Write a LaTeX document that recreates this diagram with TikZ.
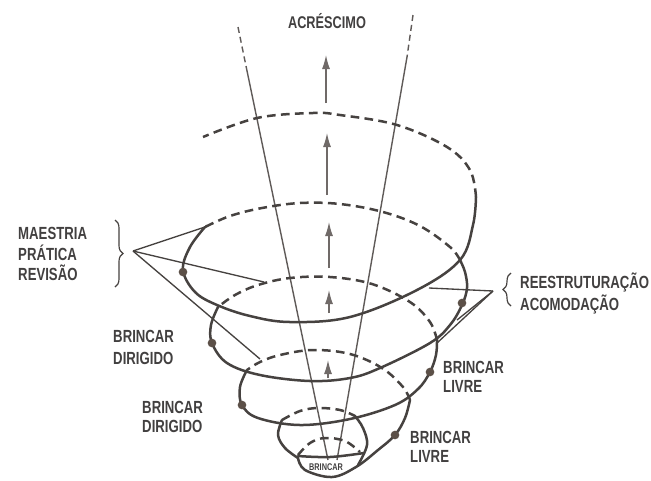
\documentclass[tikz,border=0pt]{standalone}
\usepackage{fontspec}
\usepackage{xcolor}
\usepackage{tikz}
\usetikzlibrary{decorations.pathreplacing, arrows.meta}
\newfontfamily\labelfont[FakeStretch=0.75]{Liberation Sans Bold}
\definecolor{spiralink}{RGB}{70, 66, 64}
\definecolor{coneink}{RGB}{95, 90, 88}
\definecolor{growink}{RGB}{112, 106, 104}
\definecolor{dotink}{RGB}{92, 80, 72}
\definecolor{textink}{RGB}{66, 64, 64}

\tikzset{
  nearside/.style={spiralink, line width=0.75mm, line cap=round, line join=round},
  farside/.style={spiralink, line width=0.75mm, dash pattern=on 2.6mm off 1.6mm},
  coneline/.style={coneink, line width=0.42mm},
  conetop/.style={coneink, line width=0.42mm, dash pattern=on 1.8mm off 1.2mm},
  pointer/.style={spiralink, line width=0.4mm},
  growth/.style={growink, line width=0.4mm, -{Latex[length=4.2mm, width=2.4mm]}},
  curly/.style={spiralink, line width=0.35mm, decorate, decoration={brace, amplitude=2.4mm}},
  stage/.style={text=textink, inner sep=0pt, anchor=base west, font=\labelfont\fontsize{15}{18}\selectfont},
}

\begin{document}
\begin{tikzpicture}[x=0.3mm, y=-0.3mm]
	\fill[white] (0,0) rectangle (651,480);

	% cone lines
	\draw[conetop] (238,27) -- (246,66);
	\draw[coneline] (246,66) -- (328,460);
	\draw[conetop] (413,15) -- (407,57);
	\draw[coneline] (407,57) -- (337,460);

	% growth arrows
	\foreach \ax/\ya/\yb in {326/103/55, 327/195/133, 329/268/222, 329/313/290, 328/378/360}
		\draw[growth] (\ax,\ya) -- (\ax,\yb);

	% innermost turn
	\draw[farside] plot[smooth, tension=0.6] coordinates {(298,455) (310,443) (325,438) (345,441) (360,452)};
	\draw[nearside] plot[smooth, tension=0.6] coordinates {(298,456) (330,457) (364,453)};
	% small turn
	\draw[farside] plot[smooth, tension=0.6] coordinates {(282,420) (300,411) (318,408) (340,410) (355,416)};
	\draw[nearside] plot[smooth, tension=0.6] coordinates {(282,420) (278,435) (285,448) (298,458)};
	\draw[nearside] plot[smooth, tension=0.6] coordinates {(355,416) (363,428) (367,445) (358,465)};
	% turn 2
	\draw[nearside] plot[smooth, tension=0.6] coordinates {(298,458) (305,470) (332,477) (356,467) (378,450) (395,435) (405,418) (410,400)};
	\draw[farside] plot[smooth, tension=0.6] coordinates {(410,400) (403,387) (382,368) (350,354) (313,350) (280,355) (260,362) (247,370)};
	% turn 3
	\draw[nearside] plot[smooth, tension=0.6] coordinates {(247,370) (240,387) (242,405) (258,418) (300,425) (350,419) (395,405) (418,389) (430,372) (436,355) (437,340)};
	\draw[farside] plot[smooth, tension=0.6] coordinates {(437,340) (430,322) (410,302) (372,284) (330,277) (290,278) (258,285) (235,295) (218,307)};
	% turn 4
	\draw[nearside] plot[smooth, tension=0.6] coordinates {(218,307) (211,325) (212,343) (227,363) (260,375) (310,381) (350,378) (380,368) (430,343) (450,325) (462,305) (467,288) (465,272) (460,260)};
	\draw[farside] plot[smooth, tension=0.6] coordinates {(460,260) (450,247) (420,226) (383,212) (340,204) (300,203) (262,208) (230,216) (205,227)};
	% turn 5
	\draw[nearside] plot[smooth, tension=0.6] coordinates {(205,227) (190,247) (183,270) (195,292) (217,305) (250,316) (290,322) (350,317) (417,290) (460,260) (473,225) (476,197)};
	\draw[farside] plot[smooth, tension=0.6] coordinates {(476,197) (470,170) (447,147) (397,125) (340,115) (313,113) (257,118) (203,137)};

	% stage dots
	\foreach \dx/\dy in {183/272, 212/343, 242/405, 462/303, 430/372, 395/435}
		\fill[dotink] (\dx,\dy) circle (1.3mm);

	% braces and pointers
	\draw[curly] (115,220) -- (115,287);
	\draw[curly] (511,306) -- (511,273);
	\coordinate (tipL) at (133,251);
	\coordinate (mastA) at (208,226);
	\coordinate (mastB) at (264,282);
	\coordinate (mastC) at (260,359);
	\draw[pointer] (tipL) -- (mastA);
	\draw[pointer] (tipL) -- (mastB);
	\draw[pointer] (tipL) -- (mastC);
	\coordinate (tipR) at (493,291);
	\coordinate (accA) at (429,288);
	\coordinate (accB) at (437,343);
	\coordinate (accC) at (457,320);
	\draw[pointer] (tipR) -- (accA);
	\draw[pointer] (tipR) -- (accB);
	\draw[pointer] (tipR) -- (accC);

	% labels
	\node[stage, anchor=base, font=\labelfont\fontsize{14.5}{17}\selectfont] (acresc) at (327,28) {ACRÉSCIMO};
	\node[stage] (mastery) at (18,239) {MAESTRIA};
	\node[stage] (practice) at (18,260) {PRÁTICA};
	\node[stage] (review) at (18,280) {REVISÃO};
	\node[stage] (restruct) at (520,288) {REESTRUTURAÇÃO};
	\node[stage] (accomm) at (520,310) {ACOMODAÇÃO};
	\node[stage] (guidedA) at (113,342) {BRINCAR};
	\node[stage] (guidedAb) at (113,364) {DIRIGIDO};
	\node[stage] (guidedB) at (142,413) {BRINCAR};
	\node[stage] (guidedBb) at (142,432) {DIRIGIDO};
	\node[stage] (freeA) at (443,373) {BRINCAR};
	\node[stage] (freeAb) at (443,392) {LIVRE};
	\node[stage] (freeB) at (410,443) {BRINCAR};
	\node[stage] (freeBb) at (410,462) {LIVRE};
	\node[stage, anchor=base, font=\labelfont\fontsize{8.3}{10}\selectfont] (play) at (326,470) {BRINCAR};
\end{tikzpicture}
\end{document}
